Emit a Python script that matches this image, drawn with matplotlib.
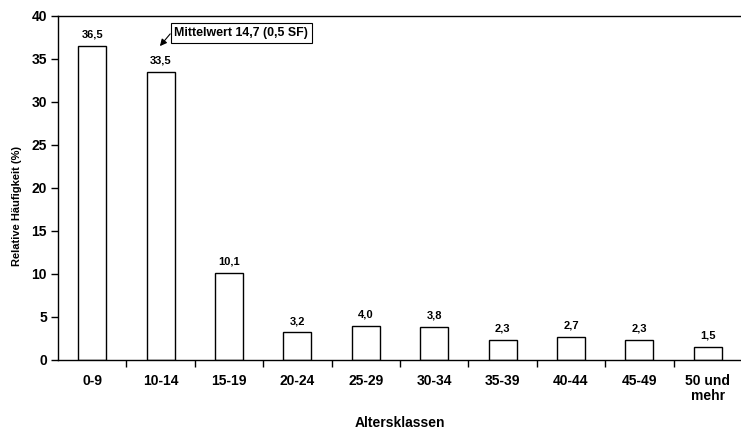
import numpy as np
import matplotlib.pyplot as plt

klassen = ["0-9", "10-14", "15-19", "20-24", "25-29", "30-34",
           "35-39", "40-44", "45-49", "50 und\nmehr"]
anteile = [36.5, 33.5, 10.1, 3.2, 4.0, 3.8, 2.3, 2.7, 2.3, 1.5]
mittelwert_text = "Mittelwert 14,7 (0,5 SF)"

plt.rcParams['font.family'] = ['Liberation Sans', 'DejaVu Sans']
plt.rcParams['font.weight'] = 'bold'

fig = plt.figure(figsize=(7.41, 4.30), dpi=100)
ax = fig.add_axes([0.0783, 0.1628, 0.9230, 0.80])

x = np.arange(len(klassen))
ax.bar(x, anteile, width=0.41, color="white", edgecolor="black", linewidth=1.0)

for xi, v in zip(x, anteile):
    ax.text(xi, v + 0.75, f"{v:.1f}".replace(".", ","), ha="center", va="bottom",
            fontsize=8, fontweight="bold")

ax.set_xlim(-0.5, len(klassen) - 0.5)
ax.set_ylim(0, 40)
ax.set_yticks(np.arange(0, 41, 5))
ax.set_xticks(x)
ax.set_xticklabels(klassen, fontsize=10, fontweight="bold", linespacing=1.1)
ax.set_xticks(np.arange(0.5, len(klassen) - 0.5, 1), minor=True)
ax.tick_params(axis="x", which="major", length=0, pad=10)
ax.tick_params(axis="x", which="minor", length=5, width=1, direction="out")
ax.tick_params(axis="y", length=5, width=1, direction="out", labelsize=10, pad=3)
for lab in ax.get_yticklabels():
    lab.set_fontweight("bold")

ax.spines["right"].set_visible(False)
for s in ("left", "bottom", "top"):
    ax.spines[s].set_linewidth(1.0)

ax.set_xlabel("Altersklassen", fontsize=10, fontweight="bold", va="center")
ax.xaxis.set_label_coords(0.5, -0.183)
ax.set_ylabel("Relative Häufigkeit (%)", fontsize=8, fontweight="bold", va="center")
ax.yaxis.set_label_coords(-0.060, 0.448)

ax.annotate(mittelwert_text, xy=(0.99, 36.5), xytext=(1.20, 38.0),
            fontsize=8.9, fontweight="bold", ha="left", va="center",
            bbox=dict(boxstyle="square,pad=0.3", fc="white", ec="black", lw=0.8),
            arrowprops=dict(arrowstyle="-|>", color="black", lw=0.8,
                            mutation_scale=10, shrinkA=0, shrinkB=0,
                            relpos=(0, 0.85)))

fig.savefig("out.png", dpi=100)
